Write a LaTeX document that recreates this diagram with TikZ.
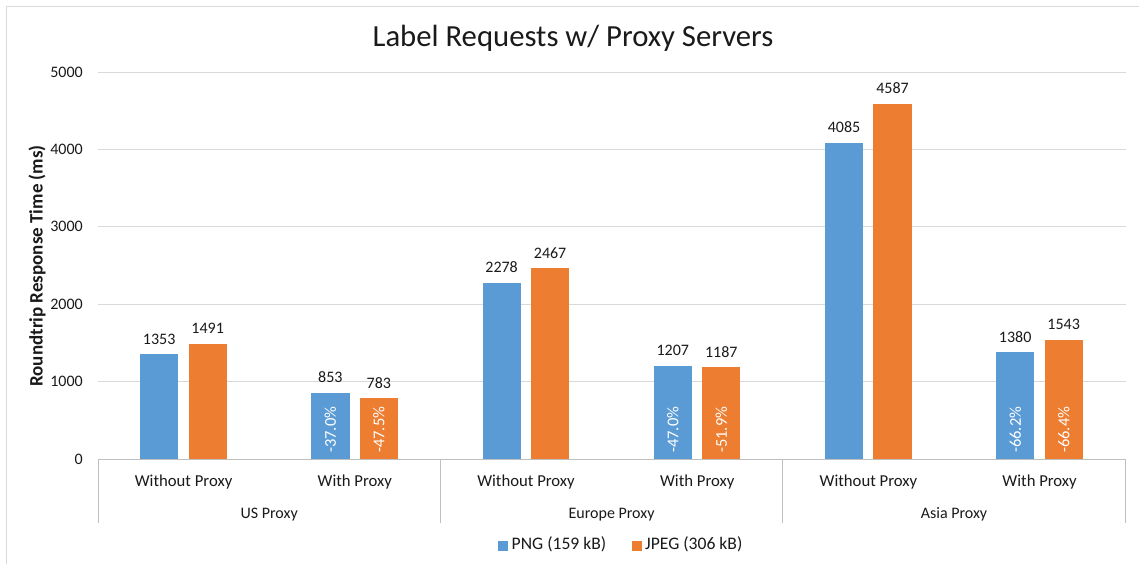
\documentclass[tikz,border=0pt]{standalone}
\usepackage{fontspec}
\setmainfont{Carlito}
\definecolor{pngblue}{HTML}{5B9BD5}
\definecolor{jpgorange}{HTML}{ED7D31}
\definecolor{gridgray}{HTML}{D9D9D9}
\definecolor{axisgray}{HTML}{BFBFBF}
\definecolor{framegray}{HTML}{D9D9D9}
\definecolor{txt}{HTML}{1A1A1A}
\begin{document}
\begin{tikzpicture}[x=1pt,y=-1pt,
  lbl/.style={font=\fontsize{16}{19}\selectfont, text=txt, inner sep=0pt},
  catlbl/.style={font=\fontsize{16.7}{19}\selectfont, text=txt, inner sep=0pt},
  leglbl/.style={font=\fontsize{17.6}{20}\selectfont, text=txt, inner sep=0pt},
  pct/.style={font=\fontsize{16.5}{19}\selectfont, text=white, inner sep=0pt, rotate=90, anchor=west},
  gridline/.style={draw=gridgray, line width=1pt},
  axisline/.style={draw=axisgray, line width=1pt}]
\useasboundingbox[fill=white] (0,0) rectangle (1139,564);
\draw[framegray, line width=1.2pt] (6.5,600) -- (6.5,6.5) -- (1160,6.5);
% title
\node[font=\fontsize{30.7}{36}\selectfont, text=txt, inner sep=0pt, anchor=base] (title) at (573,46.5) {Label Requests w/ Proxy Servers};
% y-axis title
\node[font=\bfseries\fontsize{19}{22}\selectfont, text=txt, inner sep=0pt, rotate=90] (ytitle) at (37,266) {Roundtrip Response Time (ms)};
% grid and ticks
\foreach \v in {1000,2000,3000,4000,5000}{
  \draw[gridline] (98,{459-\v*0.0774}) -- (1125.7,{459-\v*0.0774});
}
\foreach \v in {0,1000,2000,3000,4000,5000}{
  \node[lbl, anchor=east] (tick\v) at (83,{459-\v*0.0774}) {\v};
}
% bars
\foreach \i/\p/\j/\pp/\jp in {1/1353/1491//,2/853/783/-37.0\%/-47.5\%,3/2278/2467//,4/1207/1187/-47.0\%/-51.9\%,5/4085/4587//,6/1380/1543/-66.2\%/-66.4\%}{
  \pgfmathsetmacro\c{98+171.2*(\i-0.5)}
  \pgfmathsetmacro\pt{459-\p*0.0774}
  \pgfmathsetmacro\jt{459-\j*0.0774}
  \fill[pngblue] (\c-43.5,459) rectangle (\c-5.3,\pt);
  \fill[jpgorange] (\c+5,459) rectangle (\c+43.2,\jt);
  \node[lbl, anchor=base] (pv\i) at (\c-24.4,\pt-10) {\p};
  \node[lbl, anchor=base] (jv\i) at (\c+24.1,\jt-10) {\j};
  \node[pct] (pp\i) at (\c-24.4,453) {\pp};
  \node[pct] (jp\i) at (\c+24.1,453) {\jp};
}
% axis and separators
\draw[axisline] (98,459) -- (1125.7,459);
\foreach \x in {98,440.4,782.8,1125.2}{
  \draw[axisline] (\x,459) -- (\x,523);
}
% category labels
\foreach \i/\t in {1/Without Proxy,2/With Proxy,3/Without Proxy,4/With Proxy,5/Without Proxy,6/With Proxy}{
  \node[catlbl, anchor=base] (cat\i) at ({98+171.2*(\i-0.5)},486) {\t};
}
\foreach \i/\t in {1/US Proxy,2/Europe Proxy,3/Asia Proxy}{
  \node[lbl, anchor=base] (grp\i) at ({98+342.4*(\i-0.5)},518.5) {\t};
}
% legend
\fill[pngblue] (498,541) rectangle (508,551);
\node[leglbl, anchor=base west] (leg1) at (511.5,549.3) {PNG (159 kB)};
\fill[jpgorange] (632,541) rectangle (642,551);
\node[leglbl, anchor=base west] (leg2) at (645,549.3) {JPEG (306 kB)};
\end{tikzpicture}
\end{document}
